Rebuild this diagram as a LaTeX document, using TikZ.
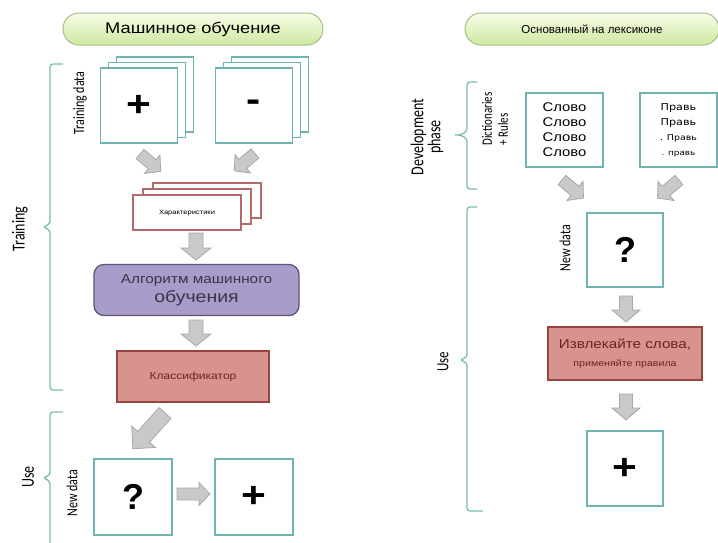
\documentclass[tikz,border=0pt]{standalone}
\usepackage{fontspec}
\setmainfont{Liberation Sans}
\newfontfamily\narrowfont{Carlito}
\newfontfamily\wideface{DejaVu Sans}
\definecolor{tealc}{HTML}{6FB3B3}
\definecolor{bracec}{HTML}{7DBDAC}
\definecolor{arrfill}{HTML}{C9C9C9}
\definecolor{arrdraw}{HTML}{A8A8A8}
\definecolor{featc}{HTML}{B36A6A}
\definecolor{purfill}{HTML}{A99CCB}
\definecolor{purdraw}{HTML}{5E5478}
\definecolor{purtext}{HTML}{3A3445}
\definecolor{redfill}{HTML}{D8938F}
\definecolor{reddraw}{HTML}{98433F}
\definecolor{redtext}{HTML}{6A2424}
\definecolor{pilltop}{HTML}{F8FDE8}
\definecolor{pillbot}{HTML}{CDE8A0}
\definecolor{pilldraw}{HTML}{A3BE8C}
\newcommand\hs[1]{\scalebox{1.18}[1]{#1}}
\newcommand\vs[1]{\scalebox{1}[1.3]{#1}}
\tikzset{
  tealbox/.style={draw=tealc,line width=1.4pt,fill=white,minimum width=77pt,minimum height=75pt,inner sep=0pt},
  featbox/.style={draw=featc,line width=1.1pt,fill=white,minimum width=108pt,minimum height=35pt,inner sep=0pt},
  pill/.style={draw=pilldraw,line width=1pt,rounded corners=16pt,top color=pilltop,bottom color=pillbot,minimum height=32pt,inner sep=0pt},
  redbox/.style={draw=reddraw,fill=redfill,line width=1.3pt,inner sep=0pt,text=redtext},
  brace/.style={draw=bracec,line width=1.3pt,rounded corners=3pt},
  vlabel/.style={rotate=90,font=\narrowfont\fontsize{12}{13}\selectfont,inner sep=0pt},
  biglabel/.style={rotate=90,font=\narrowfont\fontsize{14}{17}\selectfont,inner sep=0pt,align=center},
  bigsym/.style={font=\fontsize{36}{36}\selectfont\bfseries},
  bastyle/.style={draw=arrdraw,fill=arrfill,line width=0.8pt,line join=miter},
  pics/barrow/.style n args={4}{code={\draw[bastyle] (0,-#2/2) -- (#1-#4,-#2/2) -- (#1-#4,-#3/2) -- (#1,0) -- (#1-#4,#3/2) -- (#1-#4,#2/2) -- (0,#2/2) -- cycle;}}
}
\begin{document}
\begin{tikzpicture}[x=1pt,y=-1pt]
\useasboundingbox[fill=white] (0,0) rectangle (718,542);

% titles
\node[pill,minimum width=260pt] (t1) at (193,29) {\hs{\fontsize{15.5}{16}\selectfont Машинное обучение}};
\node[pill,minimum width=254pt] (t2) at (592,29) {\fontsize{11.5}{12}\selectfont Основанный на лексиконе};

% training data stacks
\node[tealbox] (pb3) at (155,94.5) {};
\node[tealbox] (pb2) at (147,100) {};
\node[tealbox,bigsym] (pos) at (139,105.5) {\hs{+}};
\node[tealbox] (nb3) at (270,94.5) {};
\node[tealbox] (nb2) at (262,100) {};
\node[tealbox,bigsym] (neg) at (254,105.5) {\hs{-}};

% features stack
\node[featbox] (fb3) at (207,200.5) {};
\node[featbox] (fb2) at (197,206.5) {};
\node[featbox] (feat) at (187,212.5) {\hs{\fontsize{6.4}{7}\selectfont Характеристики}};

% algorithm
\node[draw=purdraw,fill=purfill,line width=1.3pt,rounded corners=10pt,minimum width=205pt,minimum height=51pt,inner sep=0pt,align=center,text=purtext,font=\fontsize{13}{19}\selectfont] (alg) at (196.5,290)
  {\hs{Алгоритм машинного}\\\hs{\fontsize{16.5}{19}\selectfont обучения}};

% classifier
\node[redbox,minimum width=152pt,minimum height=51pt] (cls) at (193,376.5) {\hs{\fontsize{10.2}{12}\selectfont Классификатор}};

% use (left)
\node[tealbox,bigsym,minimum width=78pt,minimum height=76pt] (q1) at (133,497) {?};
\node[tealbox,bigsym,minimum width=78pt,minimum height=76pt] (r1) at (254,497) {\hs{+}};

% right side
\node[tealbox,minimum height=74pt,align=center,font=\fontsize{12.6}{15}\selectfont] (words) at (564.5,130)
  {\hs{Слово}\\\hs{Слово}\\\hs{Слово}\\\hs{Слово}};
\node[tealbox,minimum height=74pt,align=center,font=\wideface\fontsize{9.5}{15}\selectfont] (rules) at (678.5,130)
  {\hs{Правь}\\\hs{Правь}\\\hs{\fontsize{8}{15}\selectfont . Правь}\\\hs{\fontsize{7.5}{15}\selectfont . правь}};
\node[tealbox,bigsym,minimum width=76pt,minimum height=74pt] (q2) at (625,250) {?};
\node[redbox,minimum width=154pt,minimum height=53pt,align=center,font=\fontsize{12.9}{18}\selectfont] (ext) at (625,353.5)
  {\hs{Извлекайте слова,}\\\hs{\fontsize{9}{18}\selectfont применяйте правила}};
\node[tealbox,bigsym,minimum width=76pt,minimum height=75pt] (r2) at (625,468.5) {\hs{+}};

% labels
\node[biglabel] (lt) at (20,229) {\vs{Training}};
\node[biglabel] (lu) at (28,477) {\vs{Use}};
\node[vlabel] (ltd) at (80,103) {\vs{Training data}};
\node[vlabel] (lnd) at (72,493) {\vs{New data}};
\node[biglabel] (ldp) at (427,137) {\vs{Development}\\\vs{phase}};
\node[vlabel,align=left,font=\narrowfont\fontsize{11}{16}\selectfont] (ldr) at (495,119) {\vs{Dictionaries}\\\vs{+ Rules}};
\node[biglabel,font=\narrowfont\fontsize{13}{16}\selectfont] (lu2) at (443,362) {\vs{Use}};
\node[vlabel] (lnd2) at (565,248) {\vs{New data}};

% brackets
\draw[brace] (63,64) -- (50,64) -- (50,224) -- (43,227) -- (50,230) -- (50,390) -- (63,390);
\draw[brace] (63,412) -- (50,412) -- (50,475) -- (43,478) -- (50,481) -- (50,548);
\draw[brace] (477,82) -- (467,82) -- (467,131) -- (461,135) -- (453,135) -- (461,135) -- (467,139) -- (467,189) -- (477,189);
\draw[brace] (477,207) -- (467,207) -- (467,357) -- (460,360) -- (467,363) -- (467,511) -- (483,511);

% block arrows
\pic[rotate=-40] at (140,154) {barrow={27}{12}{24}{11}};
\pic[rotate=-140] at (255,153.5) {barrow={27}{12}{24}{11}};
\pic[rotate=-90] at (196,233) {barrow={27}{14}{30}{12}};
\pic[rotate=-90] at (196,320) {barrow={26}{14}{30}{12}};
\pic[rotate=-132] at (165,413) {barrow={48}{16}{32}{16}};
\pic[rotate=0] at (177,494) {barrow={33}{12}{23}{11}};
\pic[rotate=-40] at (562,180) {barrow={28}{12}{25}{11}};
\pic[rotate=-140] at (679,180) {barrow={28}{12}{25}{11}};
\pic[rotate=-90] at (626,296) {barrow={26}{13}{28}{12}};
\pic[rotate=-90] at (626,394) {barrow={26}{13}{28}{12}};
\end{tikzpicture}
\end{document}
